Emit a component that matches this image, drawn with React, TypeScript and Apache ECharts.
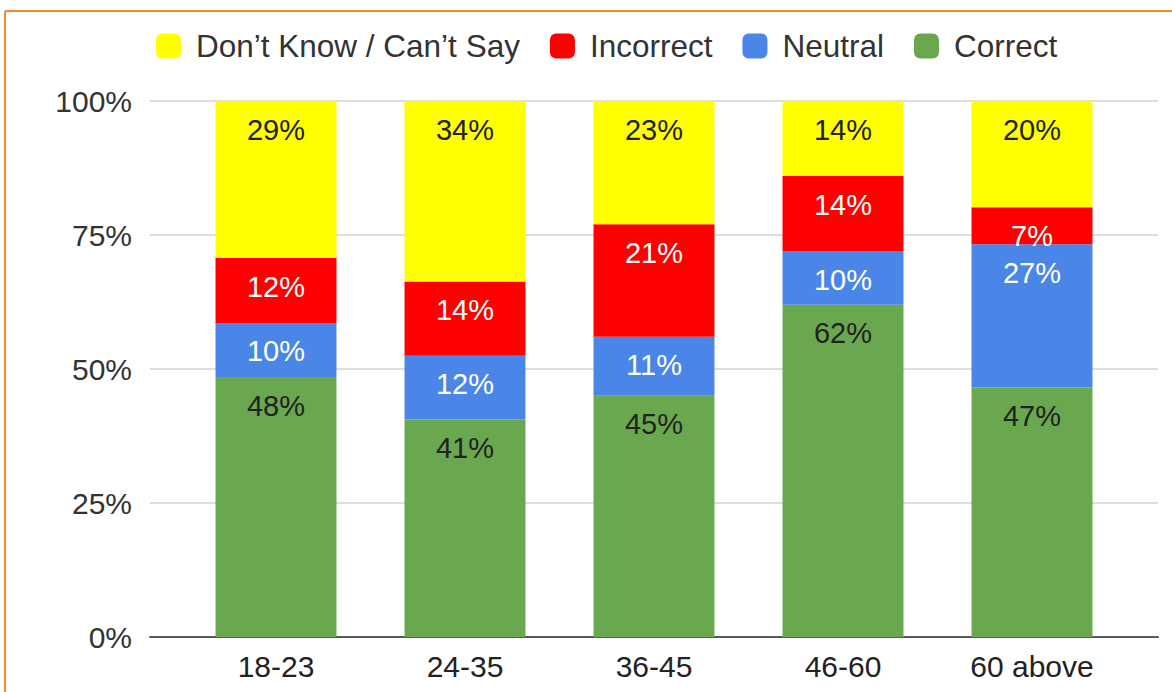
import React, { useEffect, useRef } from "react";
import * as echarts from "echarts";

const categories = ["18-23", "24-35", "36-45", "46-60", "60 above"];
const correct = [48, 41, 45, 62, 47];
const neutral = [10, 12, 11, 10, 27];
const incorrect = [12, 14, 21, 14, 7];
const dontKnow = [29, 34, 23, 14, 20];
const yTicks = [0, 25, 50, 75, 100];

const seriesDefs = [
  { name: "Correct", data: correct, color: "#6aa84f", label: "#222222" },
  { name: "Neutral", data: neutral, color: "#4a86e8", label: "#ffffff" },
  { name: "Incorrect", data: incorrect, color: "#ff0000", label: "#ffffff" },
  { name: "Don’t Know / Can’t Say", data: dontKnow, color: "#ffff00", label: "#222222" },
];

export default function App() {
  const ref = useRef<HTMLDivElement>(null);
  useEffect(() => {
    if (!ref.current) return;
    const chart = echarts.init(ref.current, null, { renderer: "svg" });
    const totals = categories.map((_, i) =>
      seriesDefs.reduce((s, d) => s + d.data[i], 0)
    );
    const font = "Liberation Sans, Arial, sans-serif";
    chart.setOption({
      animation: false,
      backgroundColor: "#ffffff",
      textStyle: { fontFamily: font },
      legend: {
        data: ["Don’t Know / Can’t Say", "Incorrect", "Neutral", "Correct"],
        left: 151,
        top: 25,
        itemWidth: 25,
        itemHeight: 25,
        itemGap: 30,
        icon: "roundRect",
        textStyle: { fontSize: 31.5, color: "#333333", fontFamily: font, padding: [0, 0, 0, 10] },
      },
      grid: [
        { left: 150, right: 14, top: 101, bottom: 55, containLabel: false },
        { left: 181.5, right: 45.5, top: 101, bottom: 55, containLabel: false },
      ],
      xAxis: [
        {
          gridIndex: 0,
          type: "value",
          min: 0,
          max: 1,
          axisLabel: { show: false },
          axisTick: { show: false },
          splitLine: { show: false },
          axisLine: { show: true, onZero: false, lineStyle: { color: "#5a5a5a", width: 2 } },
        },
        {
          gridIndex: 1,
          type: "category",
          data: categories,
          axisTick: { show: false },
          axisLine: { show: false },
          axisLabel: { fontSize: 30, color: "#222222", margin: 14, fontFamily: font },
        },
      ],
      yAxis: [
        {
          gridIndex: 0,
          type: "value",
          min: yTicks[0],
          max: yTicks[yTicks.length - 1],
          interval: 25,
          axisLine: { show: false },
          axisTick: { show: false },
          splitLine: { lineStyle: { color: "#dddddd", width: 2 } },
          axisLabel: {
            fontSize: 30,
            color: "#333333",
            margin: 18,
            fontFamily: font,
            formatter: (v: number) => v + "%",
          },
        },
        {
          gridIndex: 1,
          type: "value",
          min: yTicks[0],
          max: yTicks[yTicks.length - 1],
          interval: 25,
          show: false,
          splitLine: { show: false },
        },
      ],
      series: seriesDefs.map((d) => ({
        name: d.name,
        type: "bar",
        stack: "total",
        xAxisIndex: 1,
        yAxisIndex: 1,
        barCategoryGap: "36%",
        itemStyle: { color: d.color },
        data: d.data.map((v, i) => (v / totals[i]) * 100),
        label: {
          show: true,
          position: "insideTop",
          distance: 14,
          fontSize: 29,
          color: d.label,
          fontFamily: font,
          formatter: (p: any) => d.data[p.dataIndex] + "%",
        },
      })),
      graphic: [
        {
          type: "line",
          shape: { x1: 5, y1: 11, x2: 1172, y2: 11 },
          style: { stroke: "#ee8a33", lineWidth: 2 },
        },
        {
          type: "line",
          shape: { x1: 5, y1: 11, x2: 5, y2: 692 },
          style: { stroke: "#ee8a33", lineWidth: 2 },
        },
      ],
    });
    return () => chart.dispose();
  }, []);
  return (
    <div
      ref={ref}
      style={{ position: "absolute", left: 0, top: 0, width: 1172, height: 692 }}
    />
  );
}
